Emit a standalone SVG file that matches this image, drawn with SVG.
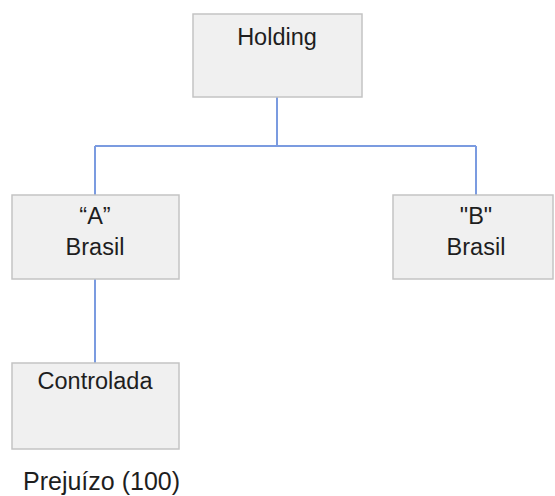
<svg xmlns="http://www.w3.org/2000/svg" width="555" height="496" viewBox="0 0 555 496">
<style>
.box{fill:#f0f0f0;stroke:#c4c4c4;stroke-width:1.5}
.t{font-family:"Liberation Sans",Arial,sans-serif;font-size:23.5px;fill:#1e1e1e;text-anchor:middle}
.c{fill:none;stroke:#7b9be0;stroke-width:2}
</style>
<rect width="555" height="496" fill="#ffffff"/>
<g id="connectors">
<path class="c" d="M277 97 V146 M95 146 H476 M95 146 V195 M476 146 V195 M95 279 V363"/>
</g>
<g id="holding">
<rect class="box" x="193" y="14" width="169" height="83"/>
<text class="t" x="277" y="45">Holding</text>
</g>
<g id="a-brasil">
<rect class="box" x="12" y="195" width="167" height="84"/>
<text class="t" x="95" y="224">“A”</text>
<text class="t" x="95" y="255">Brasil</text>
</g>
<g id="b-brasil">
<rect class="box" x="393" y="195" width="160" height="84"/>
<text class="t" x="476" y="224">"B"</text>
<text class="t" x="476" y="255">Brasil</text>
</g>
<g id="controlada">
<rect class="box" x="12" y="363" width="167" height="86"/>
<text class="t" x="95" y="389">Controlada</text>
</g>
<text class="t" x="23" y="490" style="text-anchor:start;font-size:25px">Prejuízo (100)</text>
</svg>
